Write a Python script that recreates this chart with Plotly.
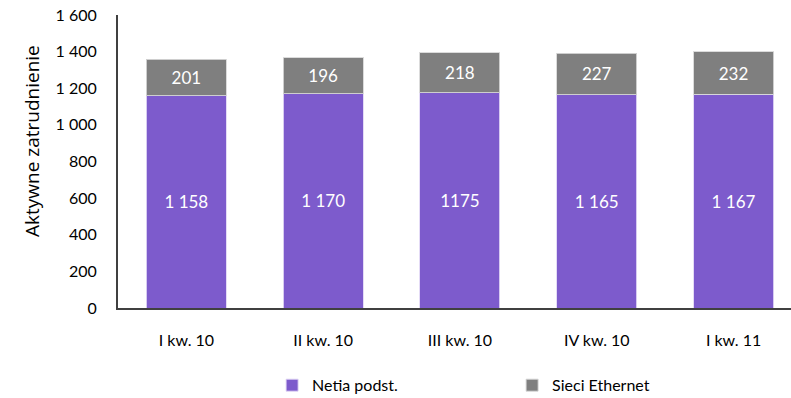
import plotly.graph_objects as go

# Quarterly active headcount, split by business unit
quarters = ["I kw. 10", "II kw. 10", "III kw. 10", "IV kw. 10", "I kw. 11"]
netia_core = [1158, 1170, 1175, 1165, 1167]
ethernet_nets = [201, 196, 218, 227, 232]
netia_labels = ["1 158", "1 170", "1175", "1 165", "1 167"]
ethernet_labels = ["201", "196", "218", "227", "232"]
y_tick_values = [0, 200, 400, 600, 800, 1000, 1200, 1400, 1600]
y_tick_labels = ["0", "200", "400", "600", "800", "1 000", "1 200", "1 400", "1 600"]
y_title = "Aktywne zatrudnienie"

FONT = "Lato"
PURPLE = "#7D5BCC"
GREY = "#7F7F7F"

fig = go.Figure()
fig.add_trace(go.Bar(
    x=quarters, y=netia_core, name="Netia podst.",
    text=netia_labels, textposition="inside", insidetextanchor="middle",
    textfont=dict(color="white", size=17, family=FONT),
    marker=dict(color=PURPLE, line=dict(color="rgba(225,215,245,0.9)", width=1)),
    width=0.585, hoverinfo="skip",
))
fig.add_trace(go.Bar(
    x=quarters, y=ethernet_nets, name="Sieci Ethernet",
    text=ethernet_labels, textposition="inside", insidetextanchor="middle",
    textfont=dict(color="white", size=17, family=FONT),
    marker=dict(color=GREY, line=dict(color="rgba(215,215,215,0.9)", width=1)),
    width=0.585, hoverinfo="skip",
))

fig.update_layout(
    barmode="stack",
    width=791, height=398,
    margin=dict(l=118, r=0, t=15, b=90, autoexpand=False),
    paper_bgcolor="white", plot_bgcolor="white",
    font=dict(family=FONT, size=15, color="#000000"),
    legend=dict(
        orientation="h", x=0.344, y=0.032, xref="container", yref="container",
        xanchor="left", yanchor="middle",
        font=dict(size=16, family=FONT, color="#000000"),
        entrywidth=195, entrywidthmode="pixels",
        itemclick=False, traceorder="normal",
    ),
    showlegend=True,
    annotations=[dict(
        text=y_title, textangle=-90,
        xref="paper", yref="paper", x=(32 - 118) / 673, y=(308 - 141) / 293,
        xanchor="center", yanchor="middle", showarrow=False,
        font=dict(size=19, family="Open Sans", color="#000000"),
    )],
)
fig.update_xaxes(
    range=[-0.5, 4.42], showgrid=False,
    showline=True, linecolor="#404040", linewidth=2,
    ticks="", tickfont=dict(size=16, family=FONT), ticklabelstandoff=17,
)
fig.update_yaxes(
    range=[0, 1600], showgrid=False, zeroline=False,
    showline=True, linecolor="#404040", linewidth=2,
    tickvals=y_tick_values, ticktext=y_tick_labels,
    ticks="", tickfont=dict(size=16, family=FONT), ticklabelstandoff=16,
)

fig.write_html("out.html")
